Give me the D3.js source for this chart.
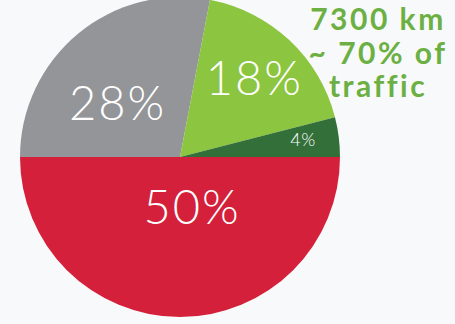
<!DOCTYPE html>
<html>
<head>
<meta charset="utf-8">
<script src="https://cdn.jsdelivr.net/npm/d3@7"></script>
<style>
  html, body { margin: 0; padding: 0; background: #f8f9fa; }
  svg { display: block; }
  text { font-variant-ligatures: none; }
</style>
</head>
<body>
<svg id="chart" width="455" height="324"></svg>
<script>
// shares of network, clockwise from 3 o'clock
var labels = ["50%", "28%", "18%", "4%"];
var values = [50, 28, 18, 4];
var colors = ["#d4203a", "#939598", "#8cc540", "#336f38"];
var fontSizes = [47, 47, 47, 18];
// label radius and nudge (px) for each slice
var labelRadius = [49, 84, 107, 123];
var labelNudge = [[12, 0], [-9, 10], [1, -2], [1, -3]];

var noteLines = ["7300 km", "~ 70% of", "traffic"];

var width = 455, height = 324;
var cx = 180, cy = 157, radius = 160;

var svg = d3.select("#chart");

var g = svg.append("g")
  .attr("transform", "translate(" + cx + "," + cy + ")");

var pie = d3.pie()
  .sort(null)
  .value(function(d){ return d; })
  .startAngle(Math.PI / 2)
  .endAngle(Math.PI / 2 + 2 * Math.PI);

var arcs = pie(values);

var arc = d3.arc()
  .innerRadius(0)
  .outerRadius(radius);

g.selectAll(".slice")
  .data(arcs)
  .enter().append("path")
  .attr("class", "slice")
  .attr("d", arc)
  .attr("fill", function(d, i){ return colors[i]; });

g.selectAll(".pct")
  .data(arcs)
  .enter().append("text")
  .attr("class", "pct")
  .attr("transform", function(d, i){
    var la = d3.arc().innerRadius(labelRadius[i]).outerRadius(labelRadius[i]);
    var c = la.centroid(d);
    return "translate(" + (c[0] + labelNudge[i][0]) + "," + (c[1] + labelNudge[i][1]) + ")";
  })
  .attr("text-anchor", "middle")
  .attr("dominant-baseline", "central")
  .attr("font-family", "Lato, 'Open Sans', sans-serif")
  .attr("font-weight", 300)
  .attr("letter-spacing", function(d, i){ return i < 3 ? 2 : 0.5; })
  .attr("font-size", function(d, i){ return fontSizes[i]; })
  .attr("fill", "#ffffff")
  .text(function(d, i){ return labels[i]; });

svg.append("text")
  .attr("x", 377)
  .attr("y", 30)
  .attr("text-anchor", "middle")
  .attr("font-family", "Lato, 'Open Sans', sans-serif")
  .attr("font-weight", 700)
  .attr("font-size", 30)
  .attr("letter-spacing", 2.5)
  .attr("fill", "#6cb043")
  .selectAll("tspan")
  .data(noteLines)
  .enter().append("tspan")
  .attr("x", 378)
  .attr("dy", function(d, i){ return i === 0 ? 0 : 33.5; })
  .text(function(d){ return d; });
</script>
</body>
</html>
